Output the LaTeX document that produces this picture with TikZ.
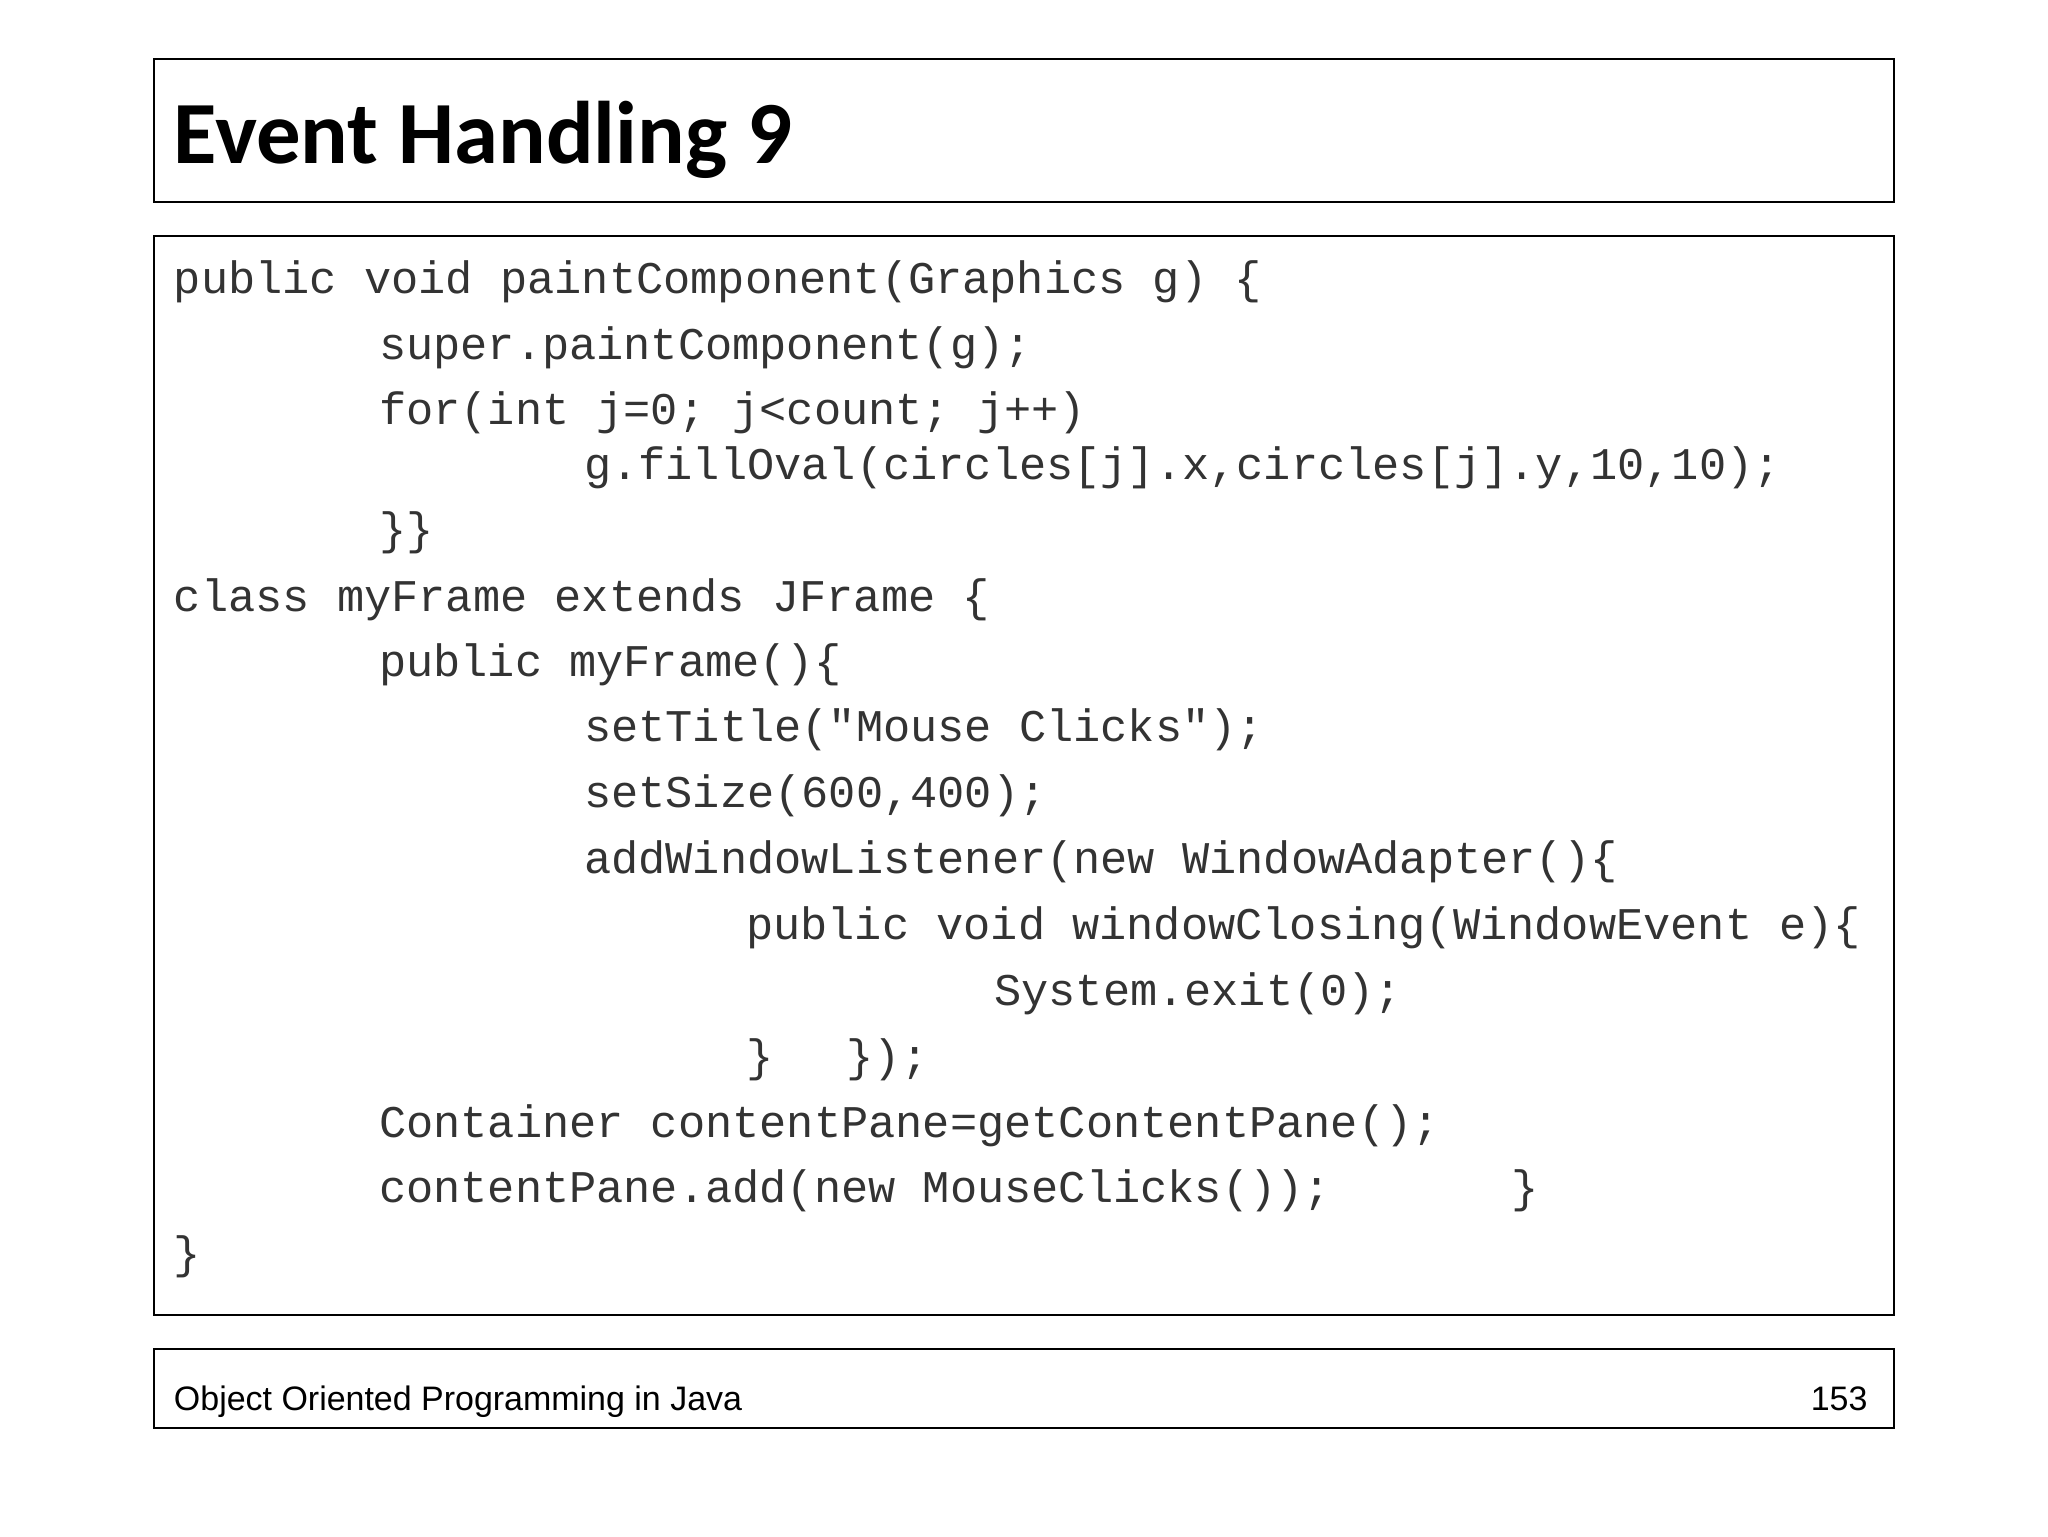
\documentclass[tikz,border=0pt]{standalone}
\usepackage{fontspec}
\setmainfont{Liberation Sans}
\newfontfamily\codefont{Liberation Mono}
\newfontfamily\titlefont{Carlito}
\begin{document}
\begin{tikzpicture}[x=1pt,y=-1pt,
  frame/.style={draw=black,line width=1.5pt},
  code/.style={anchor=base west,inner sep=0pt,font=\codefont\fontsize{34.7}{36}\selectfont,text=black!80}]
\useasboundingbox[fill=white] (0,0) rectangle (1568,1176);
\draw[frame] (118,45) rectangle (1450,155);
\draw[frame] (118,181) rectangle (1450,1007);
\draw[frame] (118,1033) rectangle (1450,1093);
\node[anchor=base west,inner sep=0pt,font=\titlefont\bfseries\fontsize{68}{72}\selectfont] (title) at (133,125) {Event Handling 9};
\node[code] (l1) at (133,225) {public void paintComponent(Graphics g) \{};
\node[code] (l2) at (290,275) {super.paintComponent(g);};
\node[code] (l3) at (290,325) {for(int j=0; j<count; j++)};
\node[code] (l4) at (447,367) {g.fillOval(circles[j].x,circles[j].y,10,10);};
\node[code] (l5) at (290,417) {\}\}};
\node[code] (l6) at (133,468) {class myFrame extends JFrame \{};
\node[code] (l7) at (290,518) {public myFrame()\{};
\node[code] (l8) at (447,568) {setTitle("Mouse Clicks");};
\node[code] (l9) at (447,618) {setSize(600,400);};
\node[code] (l10) at (447,669) {addWindowListener(new WindowAdapter()\{};
\node[code] (l11) at (571,719) {public void windowClosing(WindowEvent e)\{};
\node[code] (l12) at (761,770) {System.exit(0);};
\node[code] (l13a) at (571,820) {\}};
\node[code] (l13b) at (648,820) {\});};
\node[code] (l14) at (290,871) {Container contentPane=getContentPane();};
\node[code] (l15) at (290,921) {contentPane.add(new MouseClicks());};
\node[code] (l15b) at (1157,921) {\}};
\node[code] (l16) at (133,971) {\}};
\node[anchor=base west,inner sep=0pt,font=\fontsize{26}{28}\selectfont] (foot) at (133,1080) {Object Oriented Programming in Java};
\node[anchor=base east,inner sep=0pt,font=\fontsize{26}{28}\selectfont] (page) at (1430,1080) {153};
\end{tikzpicture}
\end{document}
